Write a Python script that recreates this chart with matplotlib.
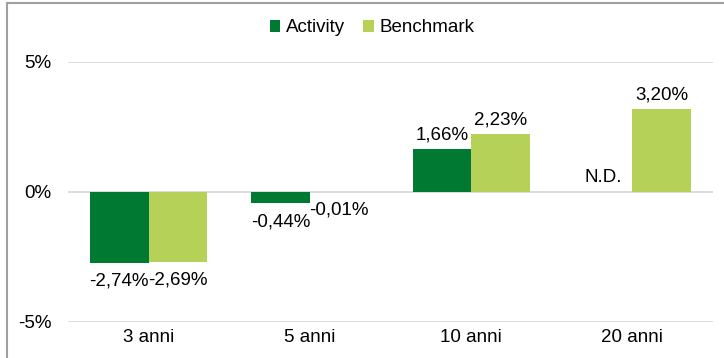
import numpy as np
import matplotlib.pyplot as plt
from matplotlib.patches import Rectangle

plt.rcParams['font.family'] = ['Liberation Sans', 'DejaVu Sans']

# ========== 数据 ==========
categories = ['3 anni', '5 anni', '10 anni', '20 anni']
activity = [-2.74, -0.44, 1.66, None]      # 20 anni: N.D.
benchmark = [-2.69, -0.01, 2.23, 3.20]
series_names = ['Activity', 'Benchmark']
yticks = [-5, 0, 5]

c_activity = '#007A33'
c_bench = '#B5D157'
grid_c = '#D9D9D9'
fs = 13.5


def fmt(v):
    return f'{v:.2f}%'.replace('.', ',')


def label(ax, xi, v, text):
    # sopra la barra se positivo, sotto se negativo
    up = v >= 0
    ax.annotate(text, (xi, v), xytext=(0, 4 if up else -7),
                textcoords='offset points', ha='center',
                va='bottom' if up else 'top', fontsize=fs)


fig = plt.figure(figsize=(7.24, 3.58), dpi=100)
ax = fig.add_axes([68 / 724, 1 - 322 / 358, (713 - 68) / 724, 260 / 358])

x = np.arange(len(categories))
w = 0.363

act_vals = [v if v is not None else 0 for v in activity]
b1 = ax.bar(x - w / 2, act_vals, w, color=c_activity, label=series_names[0], zorder=3)
b2 = ax.bar(x + w / 2, benchmark, w, color=c_bench, label=series_names[1], zorder=3)

for xi, v in zip(x - w / 2, activity):
    if v is None:
        label(ax, xi, 0, 'N.D.')
    else:
        label(ax, xi, v, fmt(v))
for xi, v in zip(x + w / 2, benchmark):
    label(ax, xi, v, fmt(v))

ax.set_xlim(-0.5, len(categories) - 0.5)
ax.set_ylim(-5, 5)
ax.set_yticks(yticks)
ax.set_yticklabels([f'{t}%' for t in yticks], fontsize=fs)
ax.set_xticks(x)
ax.set_xticklabels(categories, fontsize=fs)
ax.tick_params(length=0, pad=5)
ax.tick_params(axis='y', pad=12)
for t in yticks:
    ax.axhline(t, color=grid_c, lw=1.3, zorder=1)
for s in ax.spines.values():
    s.set_visible(False)

fig.legend(handles=[b1, b2], loc='center', bbox_to_anchor=(372 / 724, 1 - 28 / 358),
           ncol=2, frameon=False, fontsize=13.5, handlelength=0.55, handleheight=0.6,
           handletextpad=0.3, columnspacing=1.0)

# cornice del grafico
fig.patches.append(Rectangle((7 / 724, -0.1), 1.0, 1 - 3 / 358 + 0.1,
                             transform=fig.transFigure, fill=False,
                             edgecolor='#A0A0A0', lw=1.5))

fig.savefig('out.png', dpi=100)
